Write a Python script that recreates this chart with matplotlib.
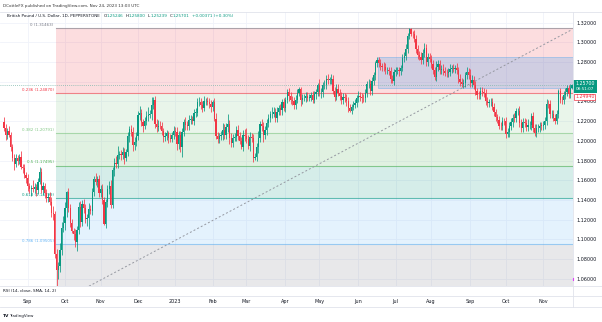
import numpy as np
import pandas as pd
import matplotlib
matplotlib.use("Agg")
import matplotlib.pyplot as plt
from matplotlib.patches import Rectangle

# GBPUSD daily closes (PEPPERSTONE), one list per month
close_aug22 = [1.2134, 1.2056, 1.2097, 1.2061, 1.1942, 1.1831, 1.1765, 1.1823, 1.1800, 1.1838,
               1.1735, 1.1723, 1.1657, 1.1622]
close_sep22 = [1.1540, 1.1510, 1.1518, 1.1515, 1.1530, 1.1500, 1.1584, 1.1680, 1.1497, 1.1543,
               1.1470, 1.1418, 1.1435, 1.1379, 1.1269, 1.1254, 1.0856, 1.0690, 1.0733, 1.0888,
               1.1115, 1.1166]
close_oct22 = [1.1322, 1.1478, 1.1323, 1.1164, 1.1090, 1.1057, 1.0970, 1.1095, 1.1327, 1.1173,
               1.1359, 1.1318, 1.1207, 1.1221, 1.1309, 1.1290, 1.1478, 1.1617, 1.1580, 1.1613,
               1.1468]
close_nov22 = [1.1510, 1.1395, 1.1159, 1.1378, 1.1511, 1.1544, 1.1350, 1.1702, 1.1773, 1.1761,
               1.1857, 1.1867, 1.1859, 1.1891, 1.1823, 1.1887, 1.2050, 1.2118, 1.2090, 1.1962,
               1.1993, 1.2052]
close_dec22 = [1.2263, 1.2287, 1.2190, 1.2155, 1.2203, 1.2254, 1.2265, 1.2277, 1.2366, 1.2418,
               1.2176, 1.2141, 1.2155, 1.2152, 1.2101, 1.2037, 1.2048, 1.2078, 1.2025, 1.2023,
               1.2064, 1.2097]
close_jan23 = [1.2089, 1.1968, 1.2057, 1.1937, 1.2088, 1.2190, 1.2157, 1.2151, 1.2213, 1.2226,
               1.2205, 1.2287, 1.2288, 1.2391, 1.2396, 1.2366, 1.2336, 1.2407, 1.2407, 1.2396,
               1.2376, 1.2340]
close_feb23 = [1.2392, 1.2224, 1.2053, 1.2023, 1.2047, 1.2059, 1.2114, 1.2061, 1.2138, 1.2174,
               1.2026, 1.1980, 1.2034, 1.2043, 1.2112, 1.2045, 1.1997, 1.1943, 1.2064, 1.2053]
close_mar23 = [1.2022, 1.1945, 1.2041, 1.2028, 1.1822, 1.1836, 1.1939, 1.2034, 1.2176, 1.2150,
               1.2056, 1.2111, 1.2178, 1.2230, 1.2271, 1.2277, 1.2289, 1.2232, 1.2295, 1.2336,
               1.2310, 1.2393, 1.2337]
close_apr23 = [1.2415, 1.2500, 1.2458, 1.2418, 1.2405, 1.2365, 1.2416, 1.2487, 1.2522, 1.2413,
               1.2431, 1.2435, 1.2452, 1.2440, 1.2440, 1.2466, 1.2416, 1.2474, 1.2497, 1.2568]
close_may23 = [1.2493, 1.2493, 1.2565, 1.2565, 1.2633, 1.2621, 1.2621, 1.2632, 1.2510, 1.2450,
               1.2528, 1.2489, 1.2452, 1.2414, 1.2444, 1.2433, 1.2407, 1.2336, 1.2306, 1.2342,
               1.2369, 1.2387, 1.2435]
close_jun23 = [1.2454, 1.2447, 1.2439, 1.2435, 1.2486, 1.2575, 1.2576, 1.2510, 1.2606, 1.2666,
               1.2789, 1.2817, 1.2788, 1.2765, 1.2749, 1.2746, 1.2715, 1.2717, 1.2712, 1.2631,
               1.2612, 1.2703]
close_jul23 = [1.2715, 1.2720, 1.2710, 1.2745, 1.2838, 1.2864, 1.2934, 1.3065, 1.3136, 1.3090,
               1.3085, 1.3034, 1.2937, 1.2870, 1.2853, 1.2820, 1.2888, 1.2941, 1.2798, 1.2848,
               1.2836]
close_aug23 = [1.2777, 1.2715, 1.2644, 1.2747, 1.2781, 1.2721, 1.2730, 1.2706, 1.2693, 1.2687,
               1.2698, 1.2728, 1.2745, 1.2726, 1.2743, 1.2719, 1.2625, 1.2594, 1.2577, 1.2589,
               1.2665, 1.2703, 1.2669]
close_sep23 = [1.2585, 1.2620, 1.2566, 1.2505, 1.2470, 1.2467, 1.2505, 1.2492, 1.2490, 1.2405,
               1.2380, 1.2390, 1.2393, 1.2349, 1.2294, 1.2238, 1.2217, 1.2155, 1.2147, 1.2200,
               1.2199]
close_oct23 = [1.2074, 1.2094, 1.2151, 1.2196, 1.2237, 1.2236, 1.2299, 1.2307, 1.2178, 1.2130,
               1.2189, 1.2186, 1.2139, 1.2160, 1.2161, 1.2250, 1.2133, 1.2081, 1.2127, 1.2128,
               1.2155, 1.2154]
close_nov23 = [1.2160, 1.2200, 1.2379, 1.2376, 1.2270, 1.2271, 1.2237, 1.2207, 1.2277, 1.2502,
               1.2420, 1.2412, 1.2462, 1.2495, 1.2532, 1.2474, 1.2533, 1.2570]

# wick lengths in pips above / below the candle body
up_wick = [
    45, 40, 35, 50, 30, 25, 40, 45, 35, 30, 60, 35, 40, 30,
    40, 35, 30, 80, 45, 30, 35, 58, 40, 35, 30, 40, 35, 45, 50, 70, 30, 50, 35, 80, 60, 70,
    60, 17, 40, 35, 45, 30, 45, 40, 50, 60, 40, 55, 45, 35, 60, 40, 40, 28, 60, 35, 40,
    40, 50, 35, 30, 40, 45, 60, 30, 50, 70, 90, 35, 40, 45, 40, 30, 40, 35, 40, 55, 45, 40,
    45, 70, 40, 35, 40, 45, 80, 40, 75, 28, 40, 50, 55, 50, 40, 30, 40, 35, 25, 45, 30, 50,
    40, 50, 40, 45, 45, 35, 50, 40, 55, 35, 30, 35, 45, 40, 45, 40, 35, 45, 30, 40, 40, 35,
    28, 45, 60, 40, 35, 40, 70, 60, 40, 95, 35, 50, 40, 35, 40, 50, 45, 40, 45, 55,
    80, 40, 50, 40, 45, 40, 35, 70, 27, 50, 45, 45, 40, 45, 32, 70, 60, 50, 45, 30, 40, 30, 40,
    30, 25, 35, 40, 40, 45, 45, 35, 24, 30, 45, 45, 40, 40, 35, 30, 45, 35, 25, 15,
    60, 40, 35, 55, 35, 45, 30, 48, 40, 35, 45, 50, 40, 40, 40, 40, 40, 35, 40, 30, 35, 40, 30,
    50, 40, 40, 35, 40, 35, 50, 40, 40, 30, 20, 31, 35, 40, 30, 50, 40, 30, 30, 40, 40, 30,
    35, 30, 30, 30, 40, 40, 50, 30, 6, 10, 25, 45, 40, 40, 40, 45, 40, 55, 45, 40, 40,
    40, 45, 40, 60, 40, 40, 40, 55, 40, 40, 40, 50, 30, 40, 30, 45, 35, 50, 40, 40, 30, 45, 40,
    60, 45, 40, 40, 35, 40, 40, 40, 40, 40, 40, 40, 40, 45, 35, 30, 40, 35, 40, 40, 35,
    40, 35, 40, 40, 40, 45, 40, 30, 45, 40, 40, 45, 40, 60, 40, 30, 40, 40, 40, 40, 40, 40,
    45, 40, 50, 40, 40, 40, 40, 40, 40, 20, 40, 40, 40, 40, 35, 40, 40, 10,
]
down_wick = [
    30, 45, 35, 25, 40, 35, 60, 30, 45, 35, 25, 50, 30, 45,
    50, 40, 70, 30, 45, 60, 35, 25, 30, 45, 50, 35, 40, 30, 40, 60, 45, 340, 90, 60, 45, 40,
    70, 90, 40, 35, 30, 60, 47, 90, 40, 45, 35, 45, 40, 70, 120, 30, 40, 40, 30, 45, 35,
    40, 35, 13, 40, 45, 55, 35, 30, 60, 40, 40, 40, 50, 45, 55, 30, 40, 60, 45, 60, 50, 40,
    40, 55, 40, 60, 30, 40, 50, 35, 60, 40, 45, 50, 40, 35, 45, 50, 35, 40, 45, 30, 35, 40,
    40, 60, 50, 50, 96, 40, 45, 40, 45, 40, 35, 45, 40, 35, 40, 45, 40, 35, 45, 35, 40, 50,
    40, 20, 30, 40, 45, 35, 45, 40, 45, 50, 60, 40, 45, 40, 45, 40, 30, 28, 50, 50,
    40, 30, 45, 40, 40, 19, 40, 60, 45, 45, 70, 40, 50, 40, 40, 35, 30, 40, 40, 35, 50, 45, 35,
    45, 35, 50, 40, 40, 40, 40, 30, 35, 60, 40, 30, 45, 35, 40, 40, 35, 30, 50, 40,
    40, 55, 45, 40, 40, 40, 40, 45, 35, 45, 30, 30, 40, 35, 40, 40, 50, 40, 10, 35, 30, 40, 40,
    40, 40, 50, 40, 40, 45, 40, 45, 40, 40, 45, 40, 40, 50, 40, 40, 40, 40, 40, 40, 20, 40,
    40, 40, 50, 40, 40, 40, 40, 40, 30, 30, 40, 35, 40, 40, 35, 40, 40, 40, 40, 40, 40,
    40, 40, 30, 40, 40, 40, 40, 40, 35, 40, 40, 35, 40, 30, 35, 40, 40, 40, 30, 40, 40, 40, 40,
    40, 40, 40, 40, 40, 40, 40, 40, 40, 40, 40, 40, 40, 40, 40, 40, 40, 35, 40, 40, 40,
    40, 37, 57, 40, 50, 40, 40, 40, 40, 40, 40, 40, 40, 40, 40, 50, 40, 30, 40, 40, 40, 40,
    40, 40, 40, 40, 40, 40, 40, 40, 40, 40, 40, 40, 40, 40, 40, 40, 40, 9,
]
first_open = 1.2195

# Fibonacci retracement drawn from the Sep-2022 low to the Jul-2023 high
fib_levels = [0, 0.236, 0.382, 0.5, 0.618, 0.786, 1]
fib_colors = ["#787b86", "#f23645", "#81c784", "#4caf50", "#089981", "#64b5f6", "#787b86"]
fib_high, fib_low = 1.31463, 1.03527
fib_start_bar = 31

box_start_bar = 221
box_top, box_bottom = 1.2848, 1.2540
trend_pts = ([31, 335], [1.0350, 1.3130])
alert_price = 1.2450
price_ticks = [1.06, 1.08, 1.10, 1.12, 1.14, 1.16, 1.18, 1.20, 1.22, 1.24, 1.26, 1.28, 1.30, 1.32]
header_ohlc = [("O", "1.25246"), ("H", "1.25800"), ("L", "1.25239"), ("C", "1.25701")]
header_change = "+0.00371 (+0.30%)"

closes = np.array(close_aug22 + close_sep22 + close_oct22 + close_nov22 + close_dec22 + close_jan23
                  + close_feb23 + close_mar23 + close_apr23 + close_may23 + close_jun23 + close_jul23
                  + close_aug23 + close_sep23 + close_oct23 + close_nov23)
dates = pd.bdate_range("2022-08-12", "2023-11-24")
assert len(closes) == len(dates) == len(up_wick) == len(down_wick)

opens = np.r_[first_open, closes[:-1]]
highs = np.maximum(opens, closes) + np.array(up_wick) / 10000
lows = np.minimum(opens, closes) - np.array(down_wick) / 10000

UP, DOWN = "#089981", "#f23645"
W, H = 602, 322
fig = plt.figure(figsize=(W / 100, H / 100), dpi=100)
ax = fig.add_axes([0, (H - 286) / H, 573 / W, 274 / H])
ax.set_xlim(-2.36, 335.6)
ax.set_ylim(1.05269, 1.33086)

x = np.arange(len(closes))
cols = np.where(closes >= opens, UP, DOWN)

# grid
month_idx = np.flatnonzero(np.r_[False, dates.month[1:] != dates.month[:-1]])
month_lbl = ["2023" if dates[i].month == 1 else dates[i].strftime("%b") for i in month_idx]
for i in month_idx:
    ax.axvline(i, color="#f0f3fa", lw=0.6, zorder=0)
for p in price_ticks:
    ax.axhline(p, color="#f0f3fa", lw=0.6, zorder=0)

# fib zones and levels
fib_prices = [fib_high - l * (fib_high - fib_low) for l in fib_levels]
x0, x1 = fib_start_bar - 0.5, ax.get_xlim()[1]
for k, (lvl, pr, c) in enumerate(zip(fib_levels, fib_prices, fib_colors)):
    if k > 0:
        ax.add_patch(Rectangle((x0, pr), x1 - x0, fib_prices[k - 1] - pr, facecolor=c,
                               alpha=0.17, lw=0, zorder=1))
    ax.plot([x0, x1], [pr, pr], color=c, lw=0.8, alpha=0.6, zorder=1.5)
    if lvl < 1:
        ax.text(x0 - 1.2, pr + 0.0012, f"{lvl:g} ({pr:.5f})", color=c, fontsize=2.9,
                ha="right", va="bottom")

# rectangle drawing
ax.add_patch(Rectangle((box_start_bar - 0.5, box_bottom), x1 - box_start_bar + 0.5,
                       box_top - box_bottom, facecolor=(0.13, 0.59, 0.95, 0.2),
                       edgecolor=(0.13, 0.59, 0.95, 0.35), lw=0.6, zorder=1.6))

# trend line and last price line
ax.plot(*trend_pts, color="#9598a1", lw=0.7, dashes=(2, 2.2), zorder=2)
ax.axhline(closes[-1], color="#7fb8ad", lw=0.6, dashes=(1, 1.5), zorder=2)

# candles
ax.vlines(x, lows, highs, colors=cols, lw=0.55, zorder=3)
ax.bar(x, np.maximum(np.abs(closes - opens), 0.0003), bottom=np.minimum(opens, closes),
       width=0.72, color=cols, lw=0, zorder=3.1)

for s in ax.spines.values():
    s.set_visible(False)
ax.yaxis.tick_right()
ax.set_yticks(price_ticks)
ax.set_yticklabels([f"{p:.5f}" for p in price_ticks])
ax.set_xticks(month_idx)
ax.set_xticklabels(month_lbl)
ax.tick_params(axis="y", length=0, pad=2.2, labelsize=3.5, labelcolor="#131722")
ax.tick_params(axis="x", length=0, pad=9.6, labelsize=3.5, labelcolor="#131722")

# overlay in pixel units for the panel chrome
ov = fig.add_axes([0, 0, 1, 1], zorder=5)
ov.set_xlim(0, W)
ov.set_ylim(H, 0)
ov.axis("off")
ov.patch.set_alpha(0)

for yy in (12, 286, 296, 307):
    ov.plot([0, W], [yy, yy], color="#e0e3eb", lw=0.6)
ov.plot([573, 573], [12, 307], color="#e0e3eb", lw=0.6)

ov.text(3, 5.5, "DCottleFX published on TradingView.com, Nov 24, 2023 13:03 UTC",
        fontsize=3.0, color="#333333", va="center")

# symbol line: lay the pieces out one after another
renderer = fig.canvas.get_renderer()

def put(xp, s, color, gap=0.0):
    t = ov.text(xp, 16, s, fontsize=3.0, color=color, va="center")
    return xp + t.get_window_extent(renderer=renderer).width + gap

cur = put(7, "British Pound / U.S. Dollar, 1D, PEPPERSTONE", "#131722", gap=3.5)
for letter, val in header_ohlc:
    cur = put(cur, letter, "#131722", gap=0.2)
    cur = put(cur, val, UP, gap=2.2)
put(cur, header_change, UP)

ov.text(3, 291, "RSI (14, close, SMA, 14, 2)", fontsize=3.0, color="#131722", va="center")
ov.text(3, 316, "TV", fontsize=3.2, color="#131722", va="center", weight="bold")
ov.text(9.5, 316, "TradingView", fontsize=2.9, color="#131722", va="center")

# axis price labels
def to_px(price):
    return H - ax.transData.transform((0, price))[1]

yl = to_px(closes[-1])
ov.add_patch(Rectangle((573, yl - 4.5), 24, 12.5, facecolor=UP, lw=0))
ov.text(575.5, yl - 1.3, f"{closes[-1]:.5f}", fontsize=3.4, color="white", va="center")
ov.text(575.5, yl + 4.2, "08:51:07", fontsize=3.0, color="white", va="center")

ya = to_px(alert_price)
ov.add_patch(Rectangle((573.5, ya - 3), 21, 6, facecolor="white", edgecolor=DOWN, lw=0.5))
ov.text(575.5, ya, "1.24940", fontsize=3.4, color=DOWN, va="center")
ov.plot([572.5, 572.5], [to_px(1.0612), to_px(1.0588)], color="#e040fb", lw=0.8)

fig.savefig("out.png", dpi=100)
